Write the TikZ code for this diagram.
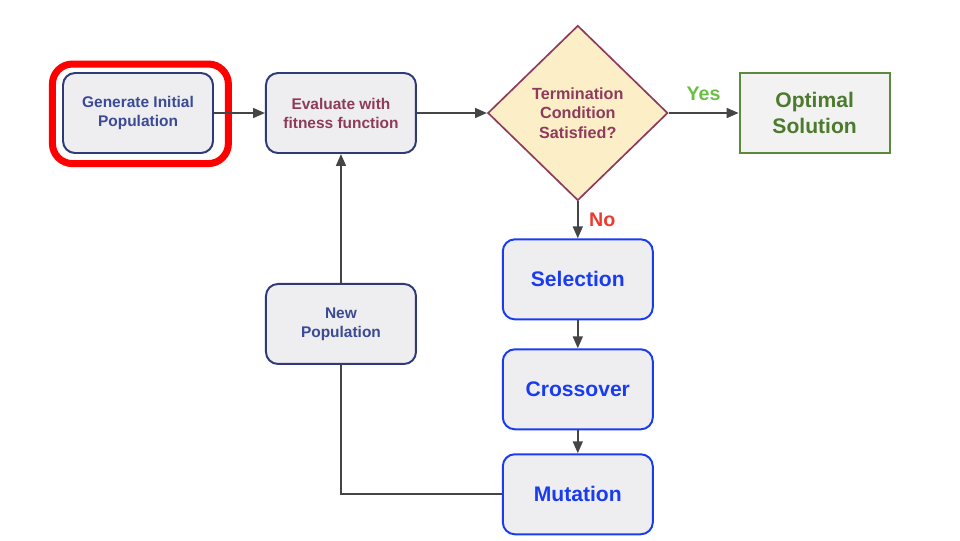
\documentclass[tikz,border=0pt]{standalone}
\usepackage{fontspec}
\setmainfont{Liberation Sans}
\usetikzlibrary{shapes.geometric, arrows.meta, positioning, fit}
\definecolor{navy}{HTML}{2F3B78}
\definecolor{navytext}{HTML}{3A4A94}
\definecolor{wine}{HTML}{8E3B5B}
\definecolor{cream}{HTML}{FCEFC8}
\definecolor{leaf}{HTML}{5B8A3C}
\definecolor{leaftext}{HTML}{4E7A2E}
\definecolor{yesgreen}{HTML}{6CBF45}
\definecolor{nored}{HTML}{EE3A2C}
\definecolor{opblue}{HTML}{1A3CF0}
\definecolor{boxgray}{HTML}{EEEEF0}
\definecolor{linegray}{HTML}{454545}

\begin{document}
\begin{tikzpicture}[
      node distance=1.5cm,
      box/.style={rectangle, draw=navy, line width=1.4pt, rounded corners=0.3cm, align=center, minimum width=3.75cm, minimum height=2cm, fill=boxgray, text=navytext, font=\bfseries\fontsize{11}{13.5}\selectfont},
      opbox/.style={box, draw=opblue, text=opblue, font=\bfseries\fontsize{15}{18}\selectfont},
      check/.style={diamond, draw=wine, line width=1.2pt, fill=cream, text=wine, align=center, minimum width=4.5cm, minimum height=4.375cm, inner sep=0pt, font=\bfseries\fontsize{11.5}{14}\selectfont},
      result/.style={rectangle, draw=leaf, line width=1.4pt, align=center, minimum width=3.75cm, minimum height=2cm, fill=black!5, text=leaftext, font=\bfseries\fontsize{15}{18}\selectfont},
      arrow/.style={-{Triangle[width=7pt,length=8.5pt]}, line width=1.4pt, draw=linegray},
      highlight/.style={draw=red, line width=5pt, rounded corners=0.5cm, inner xsep=0.3cm, inner ysep=0.22cm}
    ]
    \useasboundingbox (0,0) rectangle (24,-13.5);

    \node[box] (gen) at (3.45,-2.825) {Generate Initial\\Population};
    \node[box, text=wine, right=1.275cm of gen] (eval) {Evaluate with\\fitness function};
    \node[check, right=1.75cm of eval] (cond) {Termination\\Condition\\Satisfied?};
    \node[result, right=1.75cm of cond] (opt) {Optimal\\Solution};
    \node[opbox, below=0.925cm of cond] (sel) {Selection};
    \node[opbox, below=0.7cm of sel] (cross) {Crossover};
    \node[opbox, below=0.575cm of cross] (mut) {Mutation};
    \node[box, below=3.225cm of eval] (newpop) {New\\Population};
    \node[highlight, fit=(gen), xshift=0.06cm, yshift=-0.02cm] (mark) {};

    \draw[arrow] (gen) -- (eval);
    \draw[arrow] (eval) -- (cond);
    \draw[arrow] (cond) -- node[above=5pt, text=yesgreen, font=\bfseries\fontsize{14}{16}\selectfont] {Yes} (opt);
    \draw[arrow] (cond) -- node[right=4pt, text=nored, font=\bfseries\fontsize{14}{16}\selectfont] {No} (sel);
    \draw[arrow] (sel) -- (cross);
    \draw[arrow] (cross) -- (mut);
    \draw[line width=1.4pt, draw=linegray] (mut.west) -| (newpop.south);
    \draw[arrow] (newpop) -- (eval);
  \end{tikzpicture}
\end{document}
